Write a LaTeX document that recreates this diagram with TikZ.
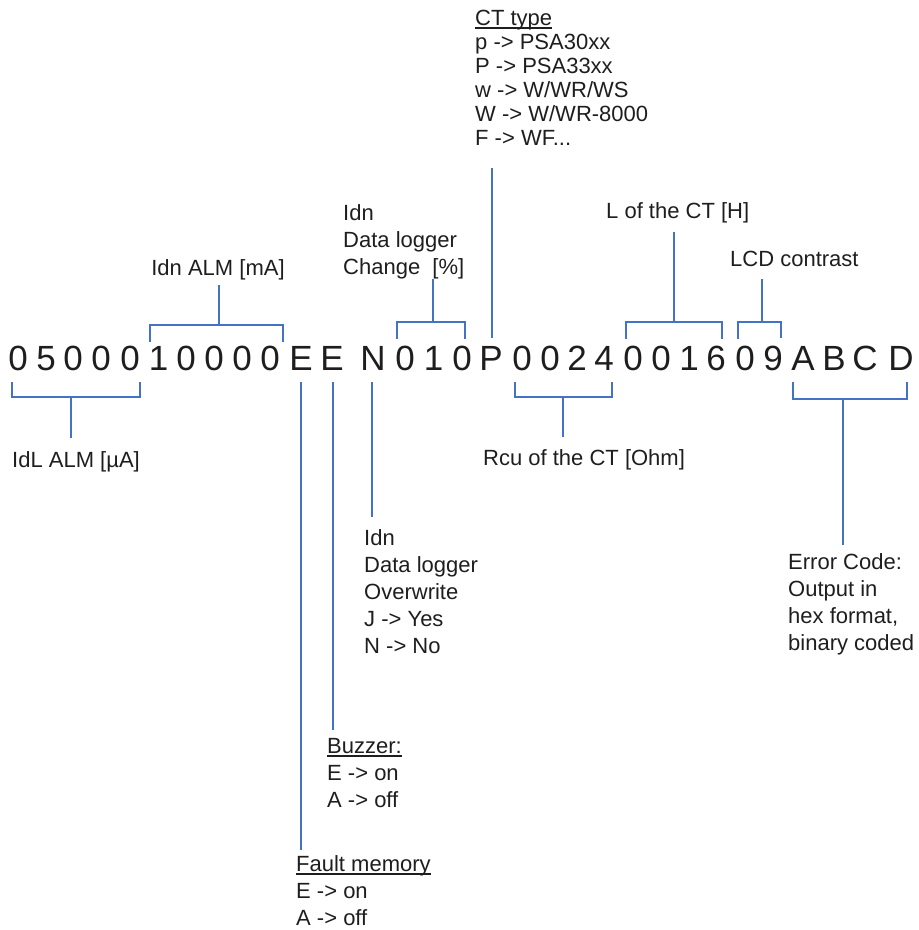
\documentclass[tikz,border=0pt]{standalone}
\usepackage{fontspec}
\setmainfont{Liberation Sans}
\definecolor{brk}{HTML}{4472C4}
\definecolor{txt}{HTML}{1E1E1E}
\newcommand{\ulab}[1]{\setbox0\hbox{#1}\rlap{\rule[-3.5pt]{\wd0}{1.1pt}}\box0}
\newcommand{\lines}[1]{\begin{tabular}[t]{@{}l@{}}#1\end{tabular}}
\begin{document}
\begin{tikzpicture}[x=1pt,y=-1pt,
  bl/.style={draw=brk, line width=2.5pt},
  dig/.style={anchor=base, inner sep=0pt, font=\fontsize{35}{42}\selectfont, text=txt},
  lab/.style={anchor=base west, inner sep=0pt, font=\fontsize{22}{27}\selectfont, text=txt},
  labc/.style={lab, anchor=base},
  labt/.style={lab, font=\fontsize{22}{24}\selectfont}]
\useasboundingbox (0,0) rectangle (919,930);
% the code string
\foreach \x/\c [count=\i] in {18/0,46/5,73/0,101/0,130/0,158.5/1,186/0,214/0,242/0,270/0,
  301/E,332/E,373/N,405/0,433.5/1,462/0,491/P,522/0,550/0,577/2,604/4,
  633/0,661/0,689/1,716/6,745/0,773/9,803/A,834/B,865/C,901/D}
  \node[dig] (c\i) at (\x,370) {\c};
% labels
\node[labt] (ctype) at (475,25) {\lines{\ulab{CT type}\\ p -> PSA30xx\\ P -> PSA33xx\\ w -> W/WR/WS\\ W -> W/WR-8000\\ F -> WF...}};
\node[labc] (idnalm) at (218,275) {Idn ALM [mA]};
\node[lab] (idnchg) at (343,220) {\lines{Idn\\ Data logger\\ Change\ \ [\%]}};
\node[lab] (lct) at (606,218) {L of the CT [H]};
\node[lab] (lcd) at (730,266) {LCD contrast};
\node[lab] (idl) at (12,467) {IdL ALM [µA]};
\node[lab] (rcu) at (483,465) {Rcu of the CT [Ohm]};
\node[lab] (idnow) at (364,545) {\lines{Idn\\ Data logger\\ Overwrite\\ J -> Yes\\ N -> No}};
\node[lab] (buzz) at (327,753) {\lines{\ulab{Buzzer:}\\ E -> on\\ A -> off}};
\node[lab] (fault) at (296,871) {\lines{\ulab{Fault memory}\\ E -> on\\ A -> off}};
\node[lab] (err) at (788,569) {\lines{Error Code:\\ Output in\\ hex format,\\ binary coded}};
% brackets and leader lines
\draw[bl] (150,342) -- (150,325) -- (283,325) -- (283,342);
\draw[bl] (219,325) -- (219,285);
\draw[bl] (12,382) -- (12,397) -- (140,397) -- (140,382);
\draw[bl] (71,397) -- (71,438);
\draw[bl] (301,382) -- (301,850);
\draw[bl] (333,382) -- (333,730);
\draw[bl] (372,382) -- (372,517);
\draw[bl] (397,339) -- (397,322) -- (465,322) -- (465,339);
\draw[bl] (433,322) -- (433,279);
\draw[bl] (492,338) -- (492,168);
\draw[bl] (515,382) -- (515,397) -- (612,397) -- (612,382);
\draw[bl] (563,397) -- (563,437);
\draw[bl] (626,339) -- (626,322) -- (722,322) -- (722,339);
\draw[bl] (674,322) -- (674,232);
\draw[bl] (738,339) -- (738,322) -- (781,322) -- (781,338);
\draw[bl] (762,322) -- (762,279);
\draw[bl] (793,382) -- (793,399) -- (907,399) -- (907,382);
\draw[bl] (843,399) -- (843,545);
\end{tikzpicture}
\end{document}
